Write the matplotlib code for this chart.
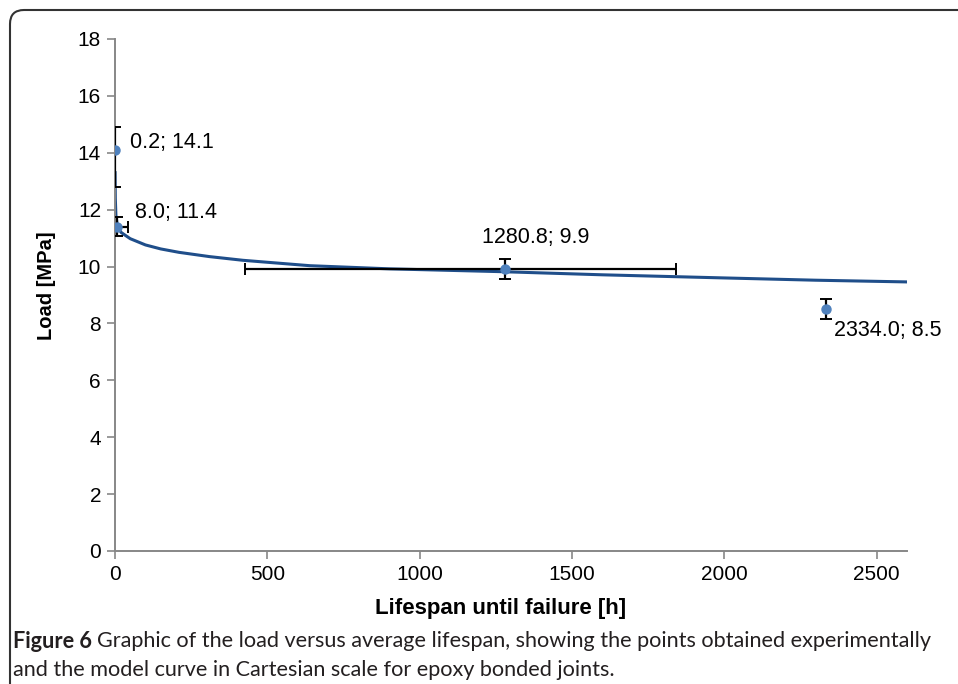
import matplotlib.pyplot as plt
from matplotlib.patches import FancyBboxPatch

# experimental points (lifespan [h], load [MPa])
life = [0.2, 8.0, 1280.8, 2334.0]
load = [14.1, 11.4, 9.9, 8.5]
load_err_low = [1.3, 0.33, 0.35, 0.35]
load_err_high = [0.8, 0.33, 0.35, 0.35]
life_err_low = [0, 36, 853, 0]
life_err_high = [0, 36, 561, 0]
labels = ['0.2; 14.1', '8.0; 11.4', '1280.8; 9.9', '2334.0; 8.5']

# model curve
curve_t = [0.3, 1, 3, 8, 20, 50, 100, 150, 210, 310, 420, 640, 900, 1270, 1600, 2000, 2300, 2600]
curve_load = [13.3, 12.4, 11.8, 11.42, 11.2, 10.98, 10.76, 10.62, 10.5, 10.35, 10.22, 10.03,
              9.92, 9.82, 9.71, 9.6, 9.52, 9.46]

caption_bold = 'Figure 6'
caption_1 = 'Graphic of the load versus average lifespan, showing the points obtained experimentally'
caption_2 = 'and the model curve in Cartesian scale for epoxy bonded joints.'

plt.rcParams['font.family'] = ['Liberation Sans', 'DejaVu Sans']

fig = plt.figure(figsize=(9.58, 6.84), dpi=100)
ax = fig.add_axes([115/958, 1 - 551/684, (907-115)/958, (551-39)/684])

# model curve
ax.plot(curve_t, curve_load, color='#1f4e8a', lw=2.2, zorder=2)

# error bars and points
ax.errorbar(life, load, yerr=[load_err_low, load_err_high], xerr=[life_err_low, life_err_high],
            fmt='none', ecolor='black', elinewidth=1.6, capsize=4, capthick=1.4, zorder=3)
ax.plot(life, load, 'o', color='#4f81bd', markersize=6.5, zorder=4)

# point labels
offsets = [(11, 5, 'left'), (12.5, 10, 'left'), (22, 23, 'center'), (5.5, -15, 'left')]
for x, y, s, (dx, dy, ha) in zip(life, load, labels, offsets):
    ax.annotate(s, (x, y), xytext=(dx, dy), textcoords='offset points',
                ha=ha, va='center', fontsize=15.5)

ax.set_xlim(0, 2600)
ax.set_ylim(0, 18)
ax.set_xticks([0, 500, 1000, 1500, 2000, 2500])
ax.set_yticks(range(0, 19, 2))
ax.tick_params(labelsize=15, direction='out', length=6, width=1.2, color='#878787', pad=4)
for side in ['top', 'right']:
    ax.spines[side].set_visible(False)
for side in ['left', 'bottom']:
    ax.spines[side].set_color('#878787')
    ax.spines[side].set_linewidth(1.4)

ax.set_xlabel('Lifespan until failure [h]', fontsize=16, fontweight='bold')
ax.set_ylabel('Load [MPa]', fontsize=14.5, fontweight='bold')
ax.xaxis.set_label_coords(0.487, -0.091)
ax.yaxis.set_label_coords(-0.074, 0.518)

# caption: bold "Figure 6" followed by the plain text
y1 = 1 - 641/684
y2 = 1 - 670/684
t_bold = fig.text(13/958, y1, caption_bold, fontsize=15.6, va='center', family='Lato',
                  fontweight='bold', color='#231f20')
renderer = fig.canvas.get_renderer()
bb = t_bold.get_window_extent(renderer)
fig.text((bb.x1 + 5) / 958, y1, caption_1, fontsize=15.6, va='center', family='Lato', color='#231f20')
fig.text(13/958, y2, caption_2, fontsize=15.6, va='center', family='Lato', color='#231f20')

# frame around the figure (only top/left visible)
frame = FancyBboxPatch((10, -60), 1100, 684 - 10 + 60, boxstyle='round,pad=0,rounding_size=14',
                       transform=None, fill=False, edgecolor='#333333', lw=1.5)
fig.patches.append(frame)

fig.savefig('out.png', dpi=100)
